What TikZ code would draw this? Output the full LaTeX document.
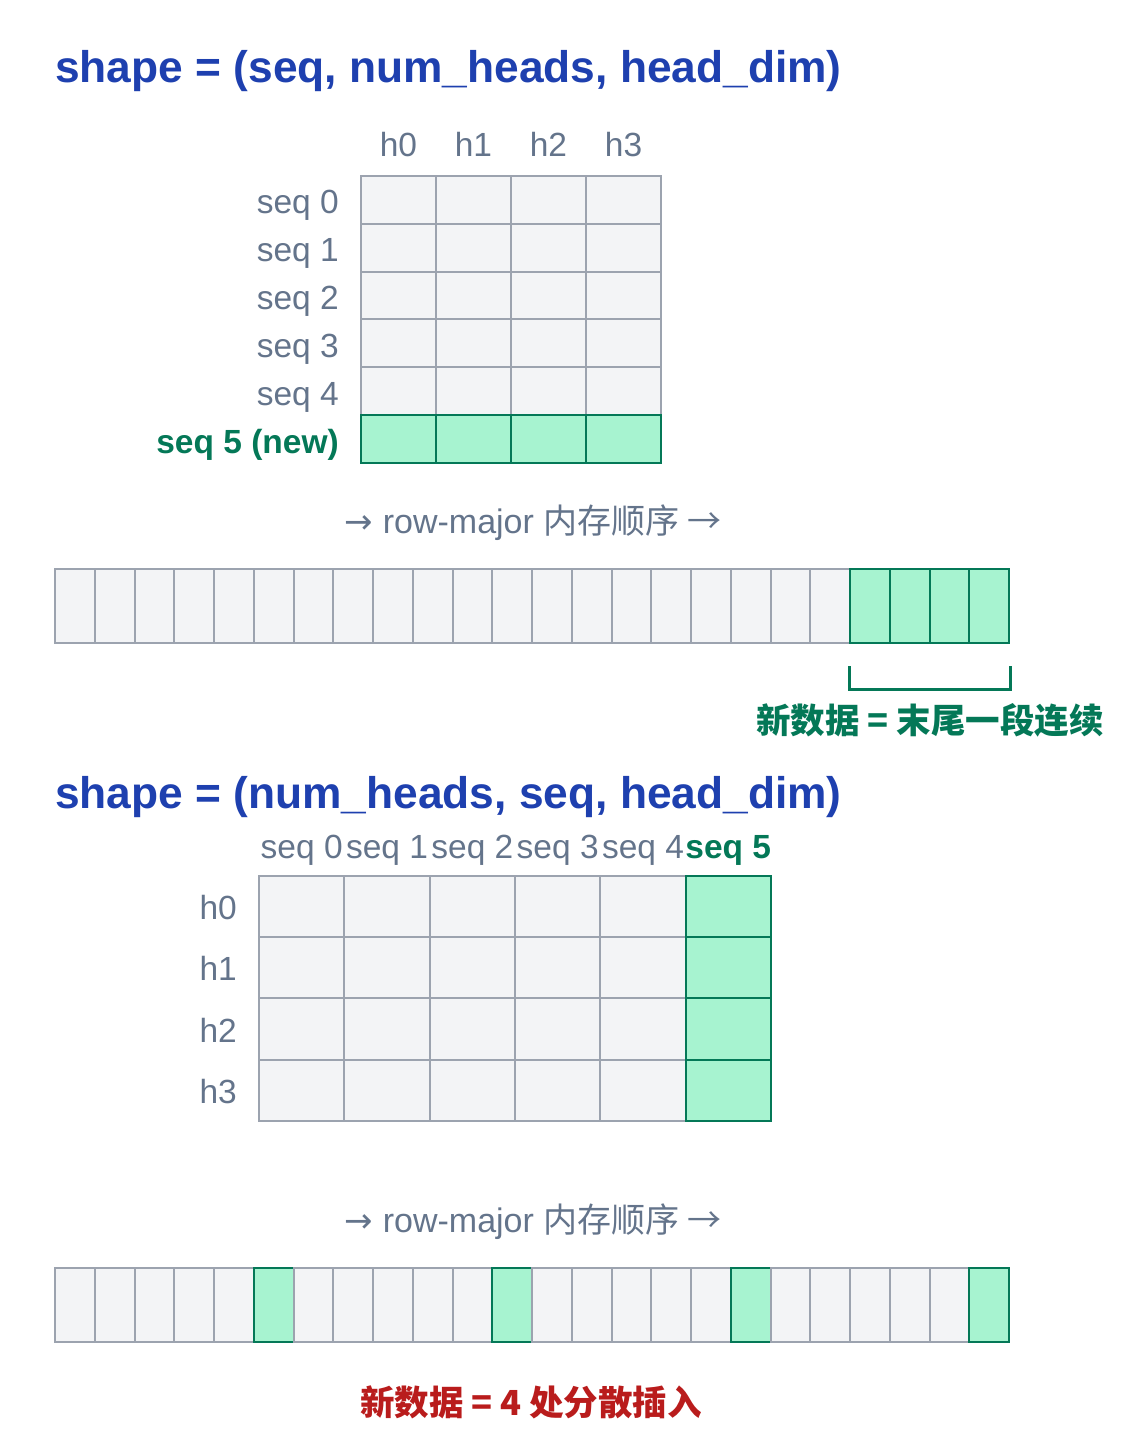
\documentclass[tikz,border=0pt]{standalone}
\usepackage{fontspec}
\setmainfont{Liberation Sans}
\newfontfamily\cjk{Noto Sans CJK SC}
\newfontfamily\arrowfont{DejaVu Sans}
\usetikzlibrary{positioning}

\definecolor{titleblue}{HTML}{1E40AF}
\definecolor{labelgray}{HTML}{64748B}
\definecolor{cellgray}{HTML}{9CA3AF}
\definecolor{cellfill}{HTML}{F3F4F6}
\definecolor{newgreen}{HTML}{047857}
\definecolor{newfill}{HTML}{A7F3D0}
\definecolor{notered}{HTML}{B91C1C}

\begin{document}
\begin{tikzpicture} [
						x=1pt, y=-1pt,
						cell/.style={draw=cellgray, fill=cellfill, line width=2pt, inner sep=0pt},
						newcell/.style={cell, draw=newgreen, fill=newfill},
						bigcell/.style={minimum width=75pt, minimum height=47.8pt},
						widecell/.style={minimum width=85.3pt, minimum height=61.25pt},
						slotcell/.style={minimum width=39.75pt, minimum height=74pt},
						title/.style={anchor=base west, inner sep=0pt, text=titleblue, font=\fontsize{44.3}{52}\selectfont\bfseries},
						lbl/.style={inner sep=0pt, text=labelgray, font=\fontsize{33.5}{40}\selectfont},
						rowlbl/.style={lbl, anchor=base east},
						collbl/.style={lbl, anchor=base},
						newlbl/.style={text=newgreen, font=\fontsize{33.5}{40}\selectfont\bfseries},
						order/.style={inner sep=0pt, text=labelgray, font=\fontsize{34}{40}\selectfont},
						note/.style={inner sep=0pt, font=\fontsize{34.5}{42}\selectfont\cjk\bfseries},
						brace/.style={draw=newgreen, line width=3pt}
					]

\useasboundingbox (0,0) rectangle (1122,1436);

% (seq, num_heads, head_dim)
\node (title1) [title] at (55,82) {shape = (seq, num\_heads, head\_dim)};

\foreach \r in {0,...,4}
	\foreach \c in {0,...,3}
		\node (a-\r-\c) [cell, bigcell] at ({398.5+75*\c},{199.9+47.83*\r}) {};
\foreach \c in {0,...,3}
	\node (a-5-\c) [newcell, bigcell] at ({398.5+75*\c},439.1) {};

\foreach \c in {0,...,3}
	\node (ah-\c) [collbl] at ([yshift=19pt]a-0-\c.north) {h\c};
\foreach \r in {0,...,4}
	\node (ar-\r) [rowlbl] at ([xshift=-21pt, yshift=-14pt]a-\r-0.west) {seq \r};
\node (ar-5) [rowlbl, newlbl] at ([xshift=-21pt, yshift=-14pt]a-5-0.west) {seq 5 (new)};

\node (order1) [order] at (533,523) {{\arrowfont →} row-major {\cjk 内存顺序 →}};

\foreach \i in {0,...,19}
	\node (s-\i) [cell, slotcell] at ({74.9+39.75*\i},606) {};
\foreach \i in {20,...,23}
	\node (s-\i) [newcell, slotcell] at ({74.9+39.75*\i},606) {};

\draw[brace] ([yshift=-22pt]s-20.south west) -- ([yshift=-45pt]s-20.south west)
	-- ([yshift=-45pt]s-23.south east) -- ([yshift=-22pt]s-23.south east);
\node (note1) [note, text=newgreen] at (930,720) {新数据 = 末尾一段连续};

% (num_heads, seq, head_dim)
\node (title2) [title] at (55,808) {shape = (num\_heads, seq, head\_dim)};

\foreach \r in {0,...,3} {
	\foreach \c in {0,...,4}
		\node (b-\r-\c) [cell, widecell] at ({301.7+85.33*\c},{906.6+61.25*\r}) {};
	\node (b-\r-5) [newcell, widecell] at (728.3,{906.6+61.25*\r}) {};
}

\foreach \c in {0,...,4}
	\node (bh-\c) [collbl] at ([yshift=16pt]b-0-\c.north) {seq \c};
\node (bh-5) [collbl, newlbl] at ([yshift=16pt]b-0-5.north) {seq 5};
\foreach \r in {0,...,3}
	\node (br-\r) [rowlbl] at ([xshift=-21pt, yshift=-13pt]b-\r-0.west) {h\r};

\node (order2) [order] at (533,1222) {{\arrowfont →} row-major {\cjk 内存顺序 →}};

\foreach \i in {0,...,23} {
	\pgfmathtruncatemacro{\k}{mod(\i,6)}
	\ifnum\k=5
		\node (t-\i) [newcell, slotcell] at ({74.9+39.75*\i},1305) {};
	\else
		\node (t-\i) [cell, slotcell] at ({74.9+39.75*\i},1305) {};
	\fi
}

\node (note2) [note, text=notered] at (531,1402) {新数据 = 4 处分散插入};
\end{tikzpicture}
\end{document}
